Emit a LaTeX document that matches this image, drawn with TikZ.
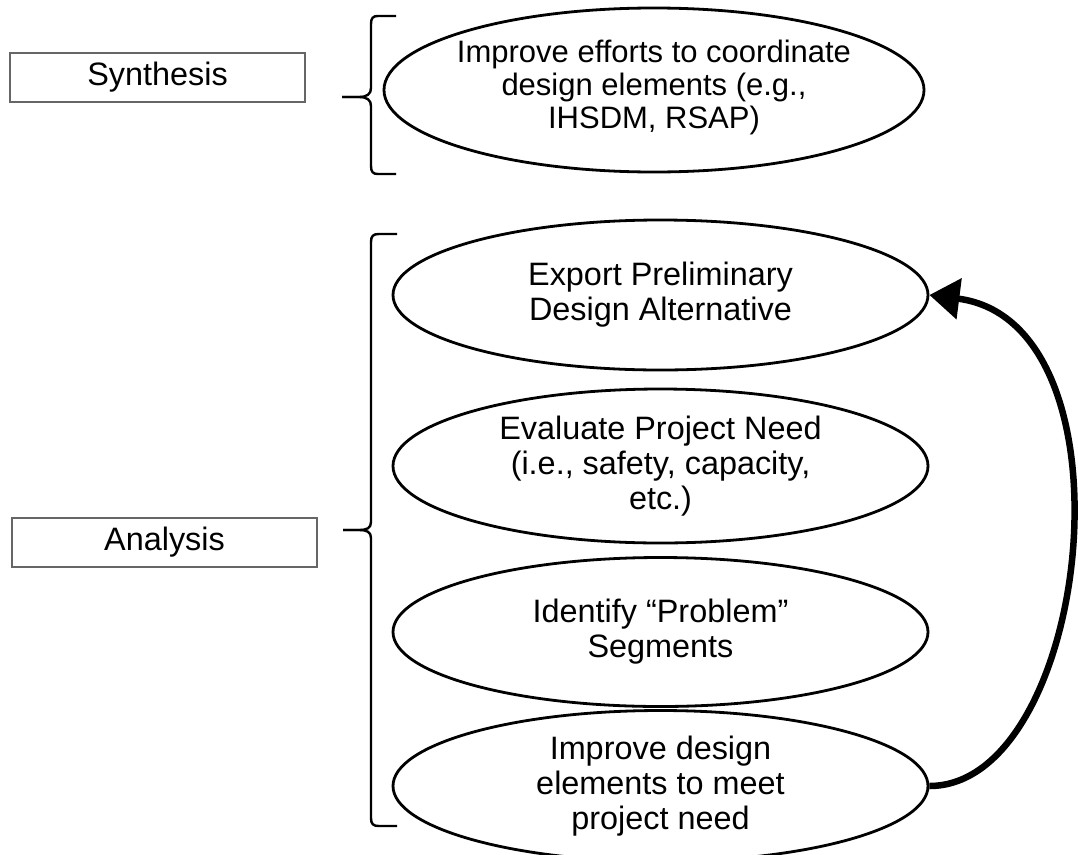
\documentclass[tikz,border=0pt]{standalone}
\usepackage{fontspec}
\setmainfont{Liberation Sans}
\usetikzlibrary{arrows.meta,shapes.geometric}
\begin{document}
\begin{tikzpicture}[x=1pt,y=-1pt,
  txt/.style={font=\fontsize{32.4}{35}\selectfont, align=center, inner sep=0pt},
  lbl/.style={draw=black!60, line width=1.3pt, inner sep=0pt, font=\fontsize{32.4}{35}\selectfont},
  oval/.style={draw, ellipse, line width=2.8pt, inner sep=0pt, minimum width=535pt},
  brc/.style={line width=2.4pt},
  back/.style={line width=6.5pt, -{Triangle[length=30pt,width=40pt]}}]
\useasboundingbox (0,0) rectangle (1078,854);
% left labels
\node[lbl, minimum width=295pt, minimum height=49pt] (syn) at (157.5,77.5) {Synthesis};
\node[lbl, minimum width=305pt, minimum height=49pt] (ana) at (164.5,542.5) {Analysis};
% braces
\draw[brc] (396,16) -- (378,16) .. controls (373,16) and (371,18) .. (371,24) -- (371,88)
  .. controls (371,94) and (367,97) .. (359,97) -- (342,97);
\draw[brc] (342,97) -- (359,97) .. controls (367,97) and (371,100) .. (371,106) -- (371,166)
  .. controls (371,172) and (373,174) .. (378,174) -- (396,174);
\draw[brc] (397,234) -- (379,234) .. controls (373,234) and (371,236) .. (371,242) -- (371,522)
  .. controls (371,528) and (367,530) .. (359,530) -- (343,530);
\draw[brc] (343,530) -- (359,530) .. controls (367,530) and (371,532) .. (371,538) -- (371,818)
  .. controls (371,824) and (373,826) .. (379,826) -- (397,826);
% ellipses
\node[oval, minimum width=540pt, minimum height=164pt] (e1) at (654,90) {};
\node[txt, font=\fontsize{31}{33}\selectfont] (t1) at (654,87) {Improve efforts to coordinate\\design elements (e.g.,\\IHSDM, RSAP)};
\node[oval, minimum height=150pt] (e2) at (660.5,295) {};
\node[txt] (t2) at (e2) {Export Preliminary\\Design Alternative};
\node[oval, minimum height=154pt] (e3) at (660.5,466) {};
\node[txt] (t3) at (e3) {Evaluate Project Need\\(i.e., safety, capacity,\\etc.)};
\node[oval, minimum height=149pt] (e4) at (660.5,632) {};
\node[txt] (t4) at (e4) {Identify “Problem”\\Segments};
\node[oval, minimum height=151pt] (e5) at (660.5,786) {};
\node[txt] (t5) at (e5) {Improve design\\elements to meet\\project need};
% feedback arrow
\draw[back] (e5.east) .. controls (1090,786) and (1142,322) .. (e2.east);
\end{tikzpicture}
\end{document}
